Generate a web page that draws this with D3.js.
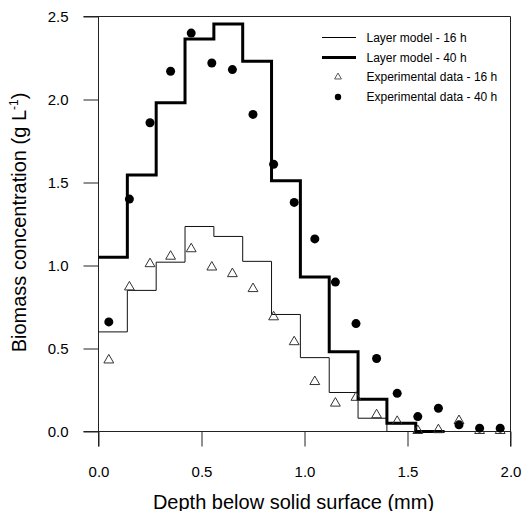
<!DOCTYPE html>
<html>
<head>
<meta charset="utf-8">
<script src="https://cdn.jsdelivr.net/npm/d3@7"></script>
<style>
  html, body { margin: 0; padding: 0; background: #fff; }
  svg { display: block; }
  text { font-family: "Liberation Sans", Arial, sans-serif; fill: #000; }
</style>
</head>
<body>
<svg id="chart" width="524" height="511"></svg>
<script>
// ---- data ----
const layerEdges = [0, 0.14, 0.28, 0.42, 0.56, 0.70, 0.84, 0.98, 1.12, 1.26, 1.40, 1.54, 1.68];
const model16 = [0.60, 0.85, 1.02, 1.235, 1.175, 1.025, 0.705, 0.445, 0.235, 0.08, 0.0, 0.0];
const model40 = [1.05, 1.545, 1.98, 2.365, 2.455, 2.23, 1.51, 0.93, 0.48, 0.195, 0.05, 0.0];
const depths = [0.05, 0.15, 0.25, 0.35, 0.45, 0.55, 0.65, 0.75, 0.85, 0.95, 1.05, 1.15, 1.25, 1.35, 1.45, 1.55, 1.65, 1.75, 1.85, 1.95];
const exp16 = [0.43, 0.87, 1.01, 1.055, 1.10, 0.99, 0.95, 0.86, 0.69, 0.54, 0.30, 0.17, 0.205, 0.10, 0.06, 0.005, 0.01, 0.065, 0.005, 0.005];
const exp40 = [0.66, 1.40, 1.86, 2.17, 2.40, 2.22, 2.18, 1.91, 1.61, 1.38, 1.16, 0.90, 0.65, 0.44, 0.23, 0.09, 0.14, 0.04, 0.02, 0.02];
const xTicks = [0, 0.5, 1.0, 1.5, 2.0];
const yTicks = [0, 0.5, 1.0, 1.5, 2.0, 2.5];
const legendItems = [
  {label: "Layer model - 16 h", kind: "thin"},
  {label: "Layer model - 40 h", kind: "thick"},
  {label: "Experimental data - 16 h", kind: "tri"},
  {label: "Experimental data - 40 h", kind: "dot"}
];

// ---- layout ----
const svg = d3.select("#chart");
const x = d3.scaleLinear().domain([0, 2]).range([98.5, 510.5]);
const y = d3.scaleLinear().domain([0, 2.5]).range([431.5, 16.5]);
const tickLen = 15;
const frameColor = "#222";

// axes
const xAxis = svg.append("g").attr("transform", `translate(0,${y(0)})`)
  .call(d3.axisBottom(x).tickValues(xTicks).tickSize(tickLen).tickPadding(20)
    .tickFormat(d3.format(".1f")));
const yAxis = svg.append("g").attr("transform", `translate(${x(0)},0)`)
  .call(d3.axisLeft(y).tickValues(yTicks).tickSize(tickLen).tickPadding(15)
    .tickFormat(d3.format(".1f")));
[xAxis, yAxis].forEach(g => {
  g.select(".domain").remove();
  g.selectAll(".tick line").attr("stroke", frameColor);
  g.selectAll(".tick text").attr("font-size", 15)
    .attr("font-family", "'Liberation Sans', Arial, sans-serif").attr("fill", "#111");
});

// frame
const frame = svg.append("g").attr("stroke", frameColor).attr("stroke-width", 1).attr("fill", "none");
frame.append("line").attr("x1", x(0) - tickLen).attr("x2", x(2)).attr("y1", y(2.5)).attr("y2", y(2.5));
frame.append("line").attr("x1", x(0) - tickLen).attr("x2", x(2)).attr("y1", y(0)).attr("y2", y(0));
frame.append("line").attr("x1", x(0)).attr("x2", x(0)).attr("y1", y(2.5)).attr("y2", y(0) + tickLen);
frame.append("line").attr("x1", x(2)).attr("x2", x(2)).attr("y1", y(2.5)).attr("y2", y(0) + tickLen);

// step lines
function stepPoints(vals) {
  const pts = [];
  vals.forEach((v, i) => {
    pts.push([layerEdges[i], v]);
    pts.push([layerEdges[i + 1], v]);
  });
  return pts;
}
const line = d3.line().x(d => x(d[0])).y(d => y(d[1]));
svg.append("path").attr("d", line(stepPoints(model16)))
  .attr("fill", "none").attr("stroke", "#111").attr("stroke-width", 1);
svg.append("path").attr("d", line(stepPoints(model40)))
  .attr("fill", "none").attr("stroke", "#000").attr("stroke-width", 3);

// markers
const triSym = d3.symbol().type(d3.symbolTriangle).size(42);
svg.append("g").selectAll("path").data(depths.map((d, i) => [d, exp16[i]])).join("path")
  .attr("d", triSym)
  .attr("transform", d => `translate(${x(d[0])},${y(d[1])})`)
  .attr("fill", "none").attr("stroke", "#333").attr("stroke-width", 1);
svg.append("g").selectAll("circle").data(depths.map((d, i) => [d, exp40[i]])).join("circle")
  .attr("cx", d => x(d[0])).attr("cy", d => y(d[1])).attr("r", 4.5).attr("fill", "#000");

// legend
const lg = svg.append("g");
const rowY = [37.5, 57.5, 77, 97];
legendItems.forEach((it, i) => {
  const g = lg.append("g").attr("transform", `translate(0,${rowY[i]})`);
  if (it.kind === "thin" || it.kind === "thick") {
    g.append("line").attr("x1", 322).attr("x2", 356).attr("y1", 0).attr("y2", 0)
      .attr("stroke", "#000").attr("stroke-width", it.kind === "thin" ? 1 : 3);
  } else if (it.kind === "tri") {
    g.append("path").attr("d", d3.symbol().type(d3.symbolTriangle).size(20))
      .attr("transform", "translate(338,0)").attr("fill", "none").attr("stroke", "#555");
  } else {
    g.append("circle").attr("cx", 338).attr("cy", 0).attr("r", 3.2).attr("fill", "#000");
  }
  g.append("text").attr("x", 366.5).attr("y", 4.3).attr("font-size", 12).attr("fill", "#111").text(it.label);
});

// axis titles
svg.append("text").attr("x", 293.5).attr("y", 508.5).attr("text-anchor", "middle")
  .attr("font-size", 20).attr("fill", "#111").text("Depth below solid surface (mm)");
const yt = svg.append("text").attr("transform", "translate(25.5,222.5) rotate(-90)")
  .attr("text-anchor", "middle").attr("font-size", 20).attr("fill", "#111");
yt.append("tspan").text("Biomass concentration (g L");
yt.append("tspan").attr("font-size", 12).attr("dy", -8).text("-1");
yt.append("tspan").attr("dy", 8).text(")");
</script>
</body>
</html>
